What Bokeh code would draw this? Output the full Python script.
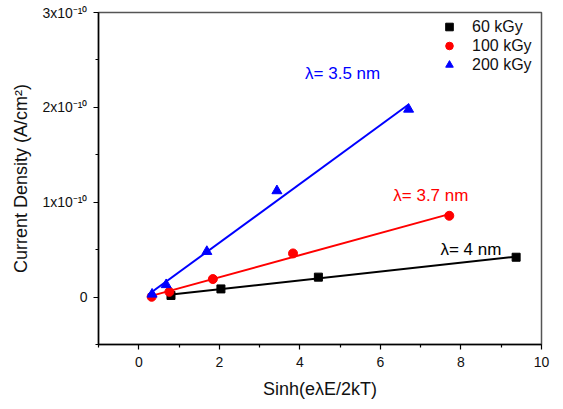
import numpy as np
from bokeh.plotting import figure
from bokeh.models import (Range1d, FixedTicker, CustomJSTickFormatter, Legend,
                          LegendItem, Label)
from bokeh.embed import file_html
from bokeh.resources import INLINE

# ---- data ----
x_60 = [0.80, 2.04, 4.46, 9.37]
y_60 = [0.017e-10, 0.086e-10, 0.21e-10, 0.42e-10]

x_100 = [0.32, 0.76, 1.84, 3.83, 7.71]
y_100 = [0.003e-10, 0.055e-10, 0.19e-10, 0.46e-10, 0.857e-10]

x_200 = [0.33, 0.68, 1.69, 3.43, 6.70]
y_200 = [0.03e-10, 0.13e-10, 0.48e-10, 1.12e-10, 1.98e-10]

series_labels = ["60 kGy", "100 kGy", "200 kGy"]
series_colors = ["black", "red", "blue"]
series_markers = ["square", "circle", "triangle"]
fit_labels = ["λ= 4 nm", "λ= 3.7 nm", "λ= 3.5 nm"]

x_ticks = [0, 2, 4, 6, 8, 10]
x_minor = [-1, 1, 3, 5, 7, 9]
y_ticks = [0, 1e-10, 2e-10, 3e-10]
y_minor = [-0.5e-10, 0.5e-10, 1.5e-10, 2.5e-10]

FONT = "Liberation Sans"

p = figure(width=555, height=401, output_backend="svg", toolbar_location=None,
           x_range=Range1d(-1, 10), y_range=Range1d(-0.5e-10, 3e-10),
           min_border_left=98, min_border_right=14, min_border_top=12,
           min_border_bottom=53)
p.background_fill_color = "white"
p.border_fill_color = "white"
p.xgrid.visible = False
p.ygrid.visible = False
p.outline_line_color = "#555555"
p.outline_line_width = 1.5

p.xaxis.ticker = FixedTicker(ticks=x_ticks, minor_ticks=x_minor)
p.yaxis.ticker = FixedTicker(ticks=y_ticks, minor_ticks=y_minor)
p.yaxis.formatter = CustomJSTickFormatter(code="""
if (Math.abs(tick) < 1e-15) return "0";
const m = Math.round(tick / 1e-10);
return m + "x10\u207b\u00b9\u2070";
""")

for ax in (p.xaxis[0], p.yaxis[0]):
    ax.axis_line_color = "black"
    ax.axis_line_width = 1.5
    ax.major_tick_line_color = "black"
    ax.minor_tick_line_color = "black"
    ax.major_tick_line_width = 1.2
    ax.minor_tick_line_width = 1.2
    ax.major_tick_out = 5
    ax.major_tick_in = 0
    ax.minor_tick_out = 3
    ax.minor_tick_in = 0
    ax.major_label_text_font = FONT
    ax.major_label_text_font_size = "14px"
    ax.major_label_text_color = "#111111"
    ax.axis_label_text_font = FONT
    ax.axis_label_text_font_size = "18px"
    ax.axis_label_text_font_style = "normal"
    ax.axis_label_text_color = "#111111"

p.xaxis.axis_label = "Sinh(eλE/2kT)"
p.yaxis.axis_label = "Current Density (A/cm²)"
p.xaxis.major_label_standoff = 7
p.yaxis.major_label_standoff = 6
p.xaxis.axis_label_standoff = 9
p.yaxis.axis_label_standoff = 8

xs_all = [x_60, x_100, x_200]
ys_all = [y_60, y_100, y_200]
items = []
for xs, ys, lab, col, mk in zip(xs_all, ys_all, series_labels, series_colors, series_markers):
    xa = np.array(xs)
    ya = np.array(ys)
    k, b = np.polyfit(xa, ya, 1)
    xf = np.array([xa.min() - 0.1, xa.max()])
    p.line(xf, k * xf + b, line_color=col, line_width=2)
    size = 8 if mk == "square" else (9 if mk == "circle" else 10)
    r = p.scatter(xs, ys, marker=mk, size=size, fill_color=col, line_color=col)
    items.append(LegendItem(label=lab, renderers=[r]))

legend = Legend(items=items, location=(341, 270), border_line_color=None,
                background_fill_alpha=0, padding=0, margin=0, spacing=0,
                label_standoff=13, glyph_width=20, glyph_height=19,
                label_height=19, label_text_font=FONT,
                label_text_font_size="16px", label_text_color="#111111")
p.add_layout(legend, "center")

label_pos = [(7.49, 0.50e-10), (6.32, 1.076e-10), (4.13, 2.36e-10)]
for (lx, ly), txt, col in zip(label_pos, fit_labels, series_colors):
    p.add_layout(Label(x=lx, y=ly, text=txt, text_color=col, text_font=FONT,
                       text_font_size="17px", text_baseline="middle"))

open("out.html", "w").write(file_html(p, INLINE))
